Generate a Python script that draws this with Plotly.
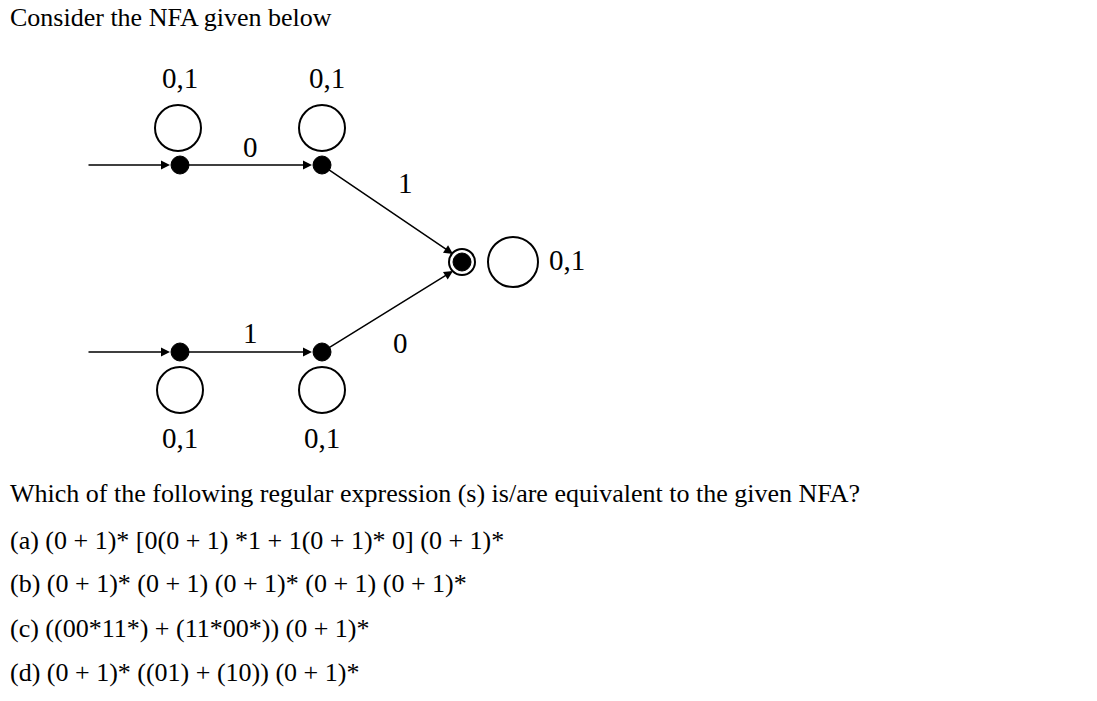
from plotly import graph_objects as go

# states (pixel coordinates, y down)
state_x = [180, 322, 462, 180, 322]
state_y = [165, 165, 262, 352, 352]
final_state = 2

# self loops: center x, center y, radius
loop_x = [178, 322, 513, 180, 322]
loop_y = [128, 128, 262, 390, 390]
loop_r = [23, 23, 25, 23, 23]

# edges: from (x, y) to (x, y)
edge_from = [(87, 165), (180, 165), (322, 165), (87, 352), (180, 352), (322, 352)]
edge_to = [(170, 165), (312, 165), (453, 254), (170, 352), (312, 352), (453, 271)]

# edge / loop labels
label_text = ["0,1", "0,1", "0", "1", "0,1", "1", "0", "0,1", "0,1"]
label_x = [180, 327, 250, 405, 567, 250, 400, 180, 322]
label_y = [78, 78, 147, 183, 260, 333, 343, 438, 438]

title_text = "Consider the NFA given below"
question = "Which of the following regular expression (s) is/are equivalent to the given NFA?"
options = [
    "(a) (0 + 1)* [0(0 + 1) *1 + 1(0 + 1)* 0] (0 + 1)*",
    "(b) (0 + 1)* (0 + 1) (0 + 1)* (0 + 1) (0 + 1)*",
    "(c) ((00*11*) + (11*00*)) (0 + 1)*",
    "(d) (0 + 1)* ((01) + (10)) (0 + 1)*",
]
option_y = [540, 583, 628, 672]

FONT = "Liberation Serif"


def main() -> None:
    fig = go.Figure()
    shapes = []
    for cx, cy, r in zip(loop_x, loop_y, loop_r):
        shapes.append(dict(type="circle", x0=cx - r, x1=cx + r, y0=cy - r, y1=cy + r,
                           line=dict(color="black", width=2)))
    for i, (sx, sy) in enumerate(zip(state_x, state_y)):
        if i == final_state:
            shapes.append(dict(type="circle", x0=sx - 13, x1=sx + 13, y0=sy - 13, y1=sy + 13,
                               line=dict(color="black", width=2), fillcolor="white"))
        shapes.append(dict(type="circle", x0=sx - 9, x1=sx + 9, y0=sy - 9, y1=sy + 9,
                           line=dict(color="black", width=1), fillcolor="black"))

    for (x0, y0), (x1, y1) in zip(edge_from, edge_to):
        fig.add_annotation(x=x1, y=y1, ax=x0, ay=y0, xref="x", yref="y", axref="x", ayref="y",
                           text="", showarrow=True, arrowhead=2, arrowsize=1.2,
                           arrowwidth=1.5, arrowcolor="black")

    for t, x, y in zip(label_text, label_x, label_y):
        fig.add_annotation(x=x, y=y, text=t, showarrow=False,
                           font=dict(family=FONT, size=29, color="black"))

    fig.add_annotation(x=8, y=17, text=title_text, showarrow=False, xanchor="left",
                       font=dict(family=FONT, size=26, color="black"))
    fig.add_annotation(x=8, y=493, text=question, showarrow=False, xanchor="left",
                       font=dict(family=FONT, size=26, color="black"))
    for t, y in zip(options, option_y):
        fig.add_annotation(x=8, y=y, text=t, showarrow=False, xanchor="left",
                           font=dict(family=FONT, size=26, color="black"))

    fig.update_layout(
        width=1081, height=685, autosize=False,
        margin=dict(l=0, r=0, t=0, b=0),
        paper_bgcolor="white", plot_bgcolor="white",
        shapes=shapes,
        xaxis=dict(range=[8, 1089], visible=False, fixedrange=True),
        yaxis=dict(range=[693, 8], visible=False, fixedrange=True),
        showlegend=False,
    )
    fig.write_html("out.html")


if __name__ == "__main__":
    main()
